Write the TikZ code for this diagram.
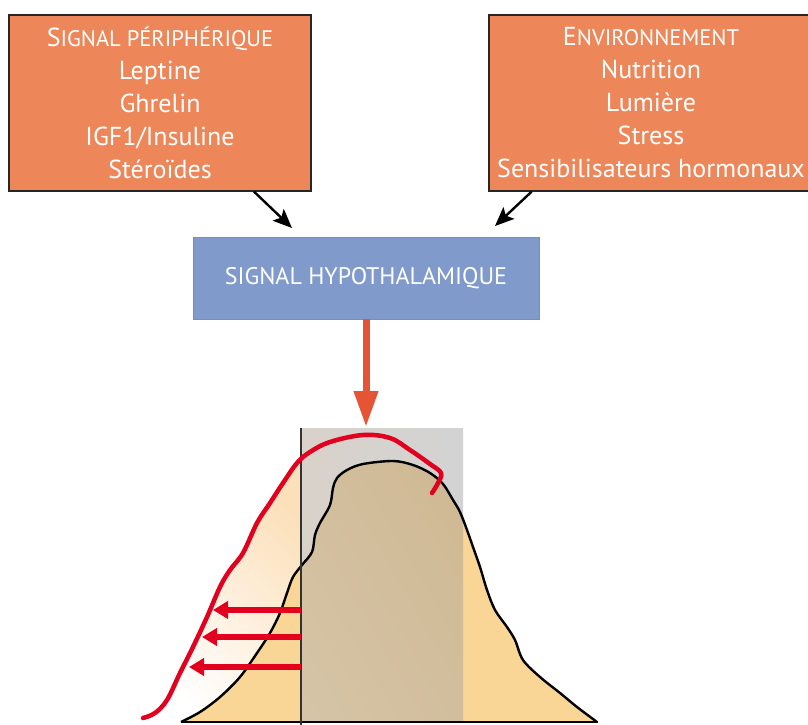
\documentclass[tikz,border=0pt]{standalone}
\usepackage{fontspec}
\setmainfont{PT Sans}
\usetikzlibrary{arrows.meta,calc}
\definecolor{boxorange}{RGB}{237,134,89}
\definecolor{boxblue}{RGB}{127,154,203}
\definecolor{blueedge}{RGB}{112,142,200}
\definecolor{hotarrow}{RGB}{229,84,52}
\definecolor{crimson}{RGB}{226,0,30}
\definecolor{sand}{RGB}{250,214,150}
\definecolor{peach}{RGB}{252,224,186}
\definecolor{greybox}{RGB}{211,211,211}
\definecolor{greywarm}{RGB}{218,210,200}
\definecolor{brownA}{RGB}{214,198,170}
\definecolor{brownB}{RGB}{206,182,143}
\tikzset{
  obox/.style={draw=black!85, line width=1.3pt, fill=boxorange, text=white, align=center, inner sep=0pt,
    font=\fontsize{26}{33}\selectfont},
  bbox/.style={draw=blueedge, line width=0.8pt, fill=boxblue, text=white, inner sep=0pt,
    font=\fontsize{24}{28}\selectfont},
  blackarrow/.style={line width=2.4pt, -{Stealth[length=19pt,width=16pt,inset=4pt]}},
  hotline/.style={hotarrow, line width=7pt, -{Triangle[length=36pt,width=23pt]}},
  redarrow/.style={crimson, line width=6pt, -{Triangle[length=15pt,width=17pt]}},
  curveline/.style={line width=2.4pt, black, line join=round},
  redcurve/.style={crimson, line width=4.5pt, line cap=round, line join=round}
}
\newcommand{\bigS}[2]{{\fontsize{26}{33}\selectfont #1}{\fontsize{22.5}{33}\selectfont #2}}
\begin{document}
\begin{tikzpicture}[x=1pt,y=-1pt]
\useasboundingbox (0,0) rectangle (808,725);

% boxes
\node[obox, minimum width=302pt, minimum height=176pt] (peri) at (160,103)
  {\bigS{S}{IGNAL PÉRIPHÉRIQUE}\\Leptine\\Ghrelin\\IGF1/Insuline\\Stéroïdes};
\node[obox, minimum width=324pt, minimum height=176pt] (env) at (651,103)
  {\bigS{E}{NVIRONNEMENT}\\Nutrition\\Lumière\\Stress\\Sensibilisateurs hormonaux};
\node[bbox, minimum width=346pt, minimum height=82pt] (hypo) at (366,278) {SIGNAL HYPOTHALAMIQUE};

\coordinate (pa) at (292,228);
\coordinate (ea) at (495,226);
\draw[blackarrow] ($(peri.south west)!0.81!(peri.south east)$) -- (pa);
\draw[blackarrow] ($(env.south west)!0.133!(env.south east)$) -- (ea);

% gradient region under red curve (left part)
\shade[left color=white, right color=peach, shading angle=135]
  plot[smooth, tension=0.6] coordinates {(143,718) (155,713) (167,700) (180,673) (193,647) (207,617) (220,587) (230,570) (243,553) (257,523) (270,503) (283,483) (297,463) (301,460)}
  -- (301,722) -- (143,722) -- cycle;

% distribution area
\def\distpath{plot[smooth, tension=0.55] coordinates {(181,722) (200,712) (220,697) (240,677) (257,653) (270,633) (280,613) (287,593) (293,577) (302,565) (312,552) (315,535) (320,523) (330,505) (333,488) (337,478) (347,470) (363,464) (393,461) (413,465) (430,473) (443,484) (453,500) (460,512) (467,530) (473,547) (480,567) (487,590) (495,610) (507,627) (515,640) (523,660) (540,677) (560,693) (577,707) (597,722)} -- cycle}
\fill[sand] \distpath;

% grey window
\shade[left color=greywarm, right color=greybox, shading angle=100] (301,428) rectangle (463,722);
\begin{scope}
  \clip (301,428) rectangle (463,722);
  \shade[left color=brownA, right color=brownB, shading angle=120] \distpath;
\end{scope}

\draw[curveline] plot[smooth, tension=0.55] coordinates {(181,722) (200,712) (220,697) (240,677) (257,653) (270,633) (280,613) (287,593) (293,577) (302,565) (312,552) (315,535) (320,523) (330,505) (333,488) (337,478) (347,470) (363,464) (393,461) (413,465) (430,473) (443,484) (453,500) (460,512) (467,530) (473,547) (480,567) (487,590) (495,610) (507,627) (515,640) (523,660) (540,677) (560,693) (577,707) (597,722)};
\coordinate (bl) at (181,722);
\coordinate (br) at (598,722);
\draw[line width=2.4pt] (bl) -- (br);
\coordinate (vt) at (301,428);
\coordinate (vb) at (301,725);
\draw[line width=2.2pt, black!80] (vt) -- (vb);

% red curve
\draw[redcurve] plot[smooth, tension=0.6] coordinates {(143,718) (155,713) (167,700) (180,673) (193,647) (207,617) (220,587) (230,570) (243,553) (257,523) (270,503) (283,483) (297,463) (310,452) (330,442) (363,435) (390,438) (410,450) (430,464) (441,473) (438,483) (432,493)};

% red arrows
\coordinate (r1s) at (301,610); \coordinate (r1e) at (213,610);
\coordinate (r2s) at (301,637); \coordinate (r2e) at (202,637);
\coordinate (r3s) at (301,667); \coordinate (r3e) at (189,667);
\draw[redarrow] (r1s) -- (r1e);
\draw[redarrow] (r2s) -- (r2e);
\draw[redarrow] (r3s) -- (r3e);

% hypothalamic arrow
\coordinate (ht) at (366,427);
\draw[hotline] (hypo.south) -- (ht);
\end{tikzpicture}
\end{document}
